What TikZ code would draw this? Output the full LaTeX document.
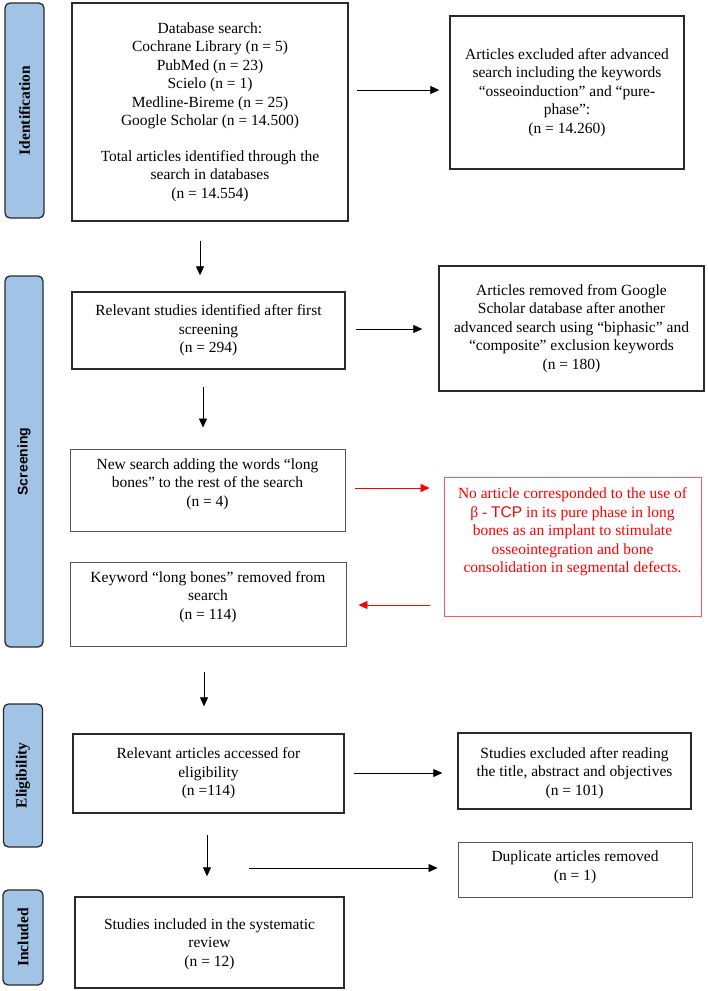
\documentclass[tikz,border=0pt]{standalone}
\usepackage{fontspec}
\setmainfont{Liberation Serif}
\setsansfont{Liberation Sans}
\usetikzlibrary{arrows.meta}
\definecolor{phaseblue}{HTML}{A0C3E6}
\definecolor{boxline}{HTML}{2A2A2A}
\definecolor{thinline}{HTML}{555555}
\definecolor{redline}{HTML}{FF5A5A}
\tikzset{
  every node/.style={font=\fontsize{15.5}{18.5}\selectfont},
  box/.style={draw=boxline, line width=1.4pt, inner sep=0pt},
  thinbox/.style={draw=thinline, line width=0.9pt, inner sep=0pt},
  redbox/.style={draw=redline, line width=0.9pt, inner sep=0pt},
  txt/.style={align=center, inner sep=0pt},
  phase/.style={draw=boxline, line width=1.3pt, fill=phaseblue, rounded corners=5pt, inner sep=0pt},
  phasetxt/.style={rotate=90, inner sep=0pt, font=\fontsize{15.5}{18.5}\selectfont\bfseries},
  arr/.style={-{Triangle[length=9pt,width=8pt]}, line width=0.8pt, black},
  redarr/.style={-{Triangle[length=9pt,width=8pt]}, line width=0.8pt, red},
}
\begin{document}
\begin{tikzpicture}[x=1pt,y=-1pt]
\useasboundingbox (0,0) rectangle (708,991);

% phase labels
\node[phase, minimum width=39pt, minimum height=215pt] (pid) at (24.5,110.5) {};
\node[phasetxt] (pidt) at (pid.center) {Identification};
\node[phase, minimum width=38pt, minimum height=371pt] (psc) at (24,461.5) {};
\node[phasetxt, font=\fontsize{14}{17}\sffamily\bfseries] (psct) at (psc.center) {Screening};
\node[phase, minimum width=39pt, minimum height=143pt] (pel) at (23,775.5) {};
\node[phasetxt] (pelt) at (pel.center) {Eligibility};
\node[phase, minimum width=40pt, minimum height=95pt] (pin) at (23,937.5) {};
\node[phasetxt] (pint) at (pin.center) {Included};

% boxes
\node[box, minimum width=276pt, minimum height=218pt] (db) at (210,112) {};
\node[txt] (dbt) at (db.center) {Database search:\\Cochrane Library (n = 5)\\PubMed (n = 23)\\Scielo (n = 1)\\Medline-Bireme (n = 25)\\Google Scholar (n = 14.500)\\[17pt]Total articles identified through the\\search in databases\\(n = 14.554)};

\node[box, minimum width=234pt, minimum height=153pt] (ex1) at (567,92.5) {};
\node[txt] (ex1t) at (ex1.center) {Articles excluded after advanced\\search including the keywords\\``osseoinduction'' and ``pure-\\phase'':\\(n = 14.260)};

\node[box, minimum width=273pt, minimum height=77pt] (rel) at (208.5,330.5) {};
\node[txt] (relt) at (rel.center) {Relevant studies identified after first\\screening\\(n = 294)};

\node[box, minimum width=265pt, minimum height=125pt] (rem) at (571.5,328.5) {};
\node[txt] (remt) at (rem.center) {Articles removed from Google\\Scholar database after another\\advanced search using ``biphasic'' and\\``composite'' exclusion keywords\\(n = 180)};

\node[thinbox, minimum width=275pt, minimum height=82pt] (new) at (207.5,490) {};
\node[txt] (newt) at (207.5,484) {New search adding the words ``long\\bones'' to the rest of the search\\(n = 4)};

\node[redbox, minimum width=257pt, minimum height=139pt] (red) at (572.5,546.5) {};
\node[txt, text=red] (redt) at (572.5,532) {No article corresponded to the use of\\β - {\sffamily TCP} in its pure phase in long\\bones as an implant to stimulate\\osseointegration and bone\\consolidation in segmental defects.};

\node[thinbox, minimum width=276pt, minimum height=84pt] (kw) at (208,604) {};
\node[txt] (kwt) at (208,597) {Keyword ``long bones'' removed from\\search\\(n = 114)};

\node[box, minimum width=271pt, minimum height=79pt] (elig) at (208.5,773.5) {};
\node[txt] (eligt) at (elig.center) {Relevant articles accessed for\\eligibility\\(n =114)};

\node[box, minimum width=233pt, minimum height=76pt] (exc2) at (574.5,771) {};
\node[txt] (exc2t) at (574.5,773) {Studies excluded after reading\\the title, abstract and objectives\\(n = 101)};

\node[thinbox, minimum width=234pt, minimum height=55pt] (dup) at (575,869.5) {};
\node[txt] (dupt) at (575,867.5) {Duplicate articles removed\\(n = 1)};

\node[box, minimum width=269pt, minimum height=91pt] (inc) at (209.5,942.5) {};
\node[txt] (inct) at (209.5,944) {Studies included in the systematic\\review\\(n = 12)};

% connectors
\draw[arr] ([xshift=-92pt,yshift=2.5pt]ex1.west) -- ([xshift=-10pt,yshift=2.5pt]ex1.west);
\draw[arr] ([xshift=-10pt,yshift=-19pt]db.south) -- ([xshift=-8.5pt,yshift=16pt]rel.north);
\draw[arr] ([xshift=-82pt,yshift=-0.5pt]rem.west) -- ([xshift=-16pt,yshift=-0.5pt]rem.west);
\draw[arr] ([xshift=-5.5pt,yshift=-17pt]rel.south) -- ([xshift=-4.5pt,yshift=21pt]new.north);
\draw[redarr] ([xshift=-89pt,yshift=58.5pt]red.west) -- ([xshift=-14pt,yshift=58.5pt]red.west);
\draw[redarr] ([xshift=84pt,yshift=-1pt]kw.east) -- ([xshift=12pt,yshift=-1pt]kw.east);
\draw[arr] ([xshift=-4pt,yshift=-26pt]kw.south) -- ([xshift=-4.5pt,yshift=27pt]elig.north);
\draw[arr] ([xshift=-103pt,yshift=-2pt]exc2.west) -- ([xshift=-15pt,yshift=-2pt]exc2.west);
\draw[arr] ([xshift=-1.5pt,yshift=-21pt]elig.south) -- ([xshift=-2.5pt,yshift=20pt]inc.north);
\draw[arr] ([xshift=-209pt,yshift=1.5pt]dup.west) -- ([xshift=-20pt,yshift=1.5pt]dup.west);
\end{tikzpicture}
\end{document}
